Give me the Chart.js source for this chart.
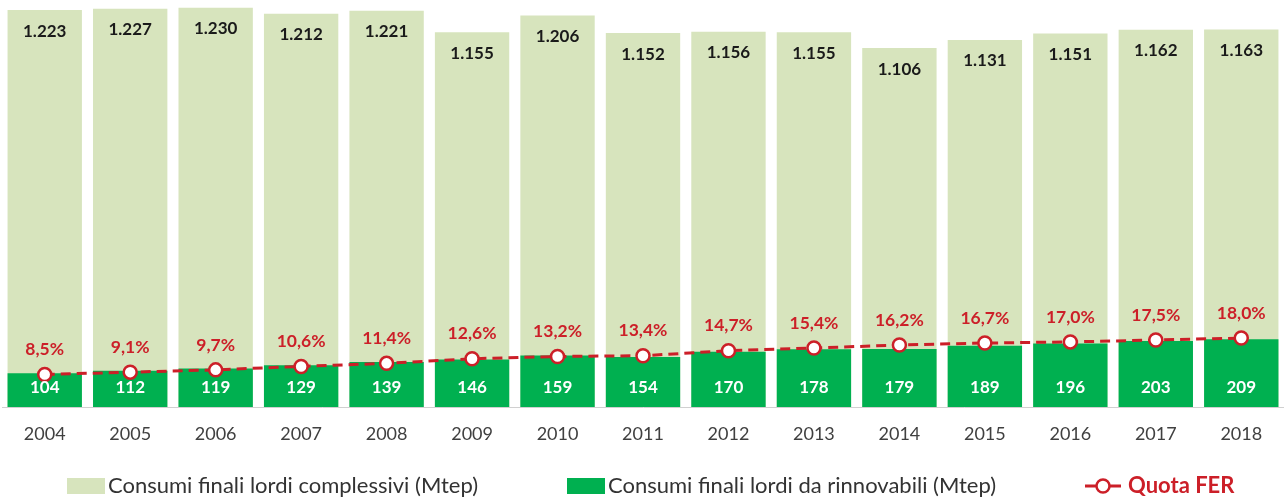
<!DOCTYPE html>
<html>
<head>
<meta charset="utf-8">
<script src="https://cdn.jsdelivr.net/npm/chart.js@4/dist/chart.umd.min.js"></script>
<style>
  html, body { margin: 0; padding: 0; background: #ffffff; }
  #wrap { width: 1284px; height: 497px; position: relative; }
</style>
</head>
<body>
<div id="wrap"><canvas id="c" width="1284" height="497"></canvas></div>
<script>
const years = ['2004','2005','2006','2007','2008','2009','2010','2011','2012','2013','2014','2015','2016','2017','2018'];
const totalConsumption = [1223, 1227, 1230, 1212, 1221, 1155, 1206, 1152, 1156, 1155, 1106, 1131, 1151, 1162, 1163];
const renewableConsumption = [104, 112, 119, 129, 139, 146, 159, 154, 170, 178, 179, 189, 196, 203, 209];
const ferShare = [8.5, 9.1, 9.7, 10.6, 11.4, 12.6, 13.2, 13.4, 14.7, 15.4, 16.2, 16.7, 17.0, 17.5, 18.0];

const seriesNames = [
  'Consumi finali lordi complessivi (Mtep)',
  'Consumi finali lordi da rinnovabili (Mtep)',
  'Quota FER'
];

const LIGHT = '#D7E4BD';
const GREEN = '#00B050';
const RED = '#CC1F28';
const FONT = 'Lato, "Open Sans", "DejaVu Sans", sans-serif';

function fmtThousands(v) {
  return v.toLocaleString('it-IT').replace(',', '.');
}
function fmtPct(v) {
  return v.toFixed(1).replace('.', ',') + '%';
}

const labelPlugin = {
  id: 'customLabels',
  afterDatasetsDraw(chart) {
    const ctx = chart.ctx;
    const area = chart.chartArea;
    ctx.save();
    ctx.textAlign = 'center';
    ctx.textBaseline = 'middle';
    const m0 = chart.getDatasetMeta(0);
    ctx.font = 'bold 17px ' + FONT;
    ctx.fillStyle = '#1a1a1a';
    m0.data.forEach((el, i) => {
      ctx.fillText(fmtThousands(totalConsumption[i]), el.x, el.y + 21);
    });
    const m1 = chart.getDatasetMeta(1);
    ctx.fillStyle = '#ffffff';
    ctx.font = 'bold 17px ' + FONT;
    m1.data.forEach((el, i) => {
      ctx.fillText(String(renewableConsumption[i]), el.x, area.bottom - 19);
    });
    const m2 = chart.getDatasetMeta(2);
    ctx.fillStyle = RED;
    ctx.font = 'bold 17.5px ' + FONT;
    m2.data.forEach((el, i) => {
      ctx.fillText(fmtPct(ferShare[i]), el.x, el.y - 25);
    });
    ctx.restore();
  },
  afterDraw(chart) {
    const ctx = chart.ctx;
    ctx.save();
    const y = 486;
    ctx.font = '22px ' + FONT;
    ctx.textBaseline = 'middle';
    ctx.textAlign = 'left';
    ctx.fillStyle = LIGHT;
    ctx.fillRect(67, y - 8, 38, 16);
    ctx.fillStyle = '#333333';
    ctx.fillText(seriesNames[0], 108, y);
    ctx.fillStyle = GREEN;
    ctx.fillRect(567, y - 8, 38, 16);
    ctx.fillStyle = '#333333';
    ctx.fillText(seriesNames[1], 608, y);
    ctx.strokeStyle = RED;
    ctx.lineWidth = 3;
    ctx.beginPath();
    ctx.moveTo(1085, y); ctx.lineTo(1121, y);
    ctx.stroke();
    ctx.beginPath();
    ctx.arc(1103, y, 6.5, 0, Math.PI * 2);
    ctx.fillStyle = '#ffffff';
    ctx.fill();
    ctx.lineWidth = 2.5;
    ctx.stroke();
    ctx.fillStyle = RED;
    ctx.font = 'bold 22px ' + FONT;
    ctx.fillText(seriesNames[2], 1128, y);
    ctx.restore();
  }
};

new Chart(document.getElementById('c'), {
  data: {
    labels: years,
    datasets: [
      {
        type: 'bar',
        label: seriesNames[0],
        data: totalConsumption,
        backgroundColor: LIGHT,
        borderWidth: 0,
        grouped: false,
        order: 3,
        yAxisID: 'y'
      },
      {
        type: 'bar',
        label: seriesNames[1],
        data: renewableConsumption,
        backgroundColor: GREEN,
        borderWidth: 0,
        grouped: false,
        order: 2,
        yAxisID: 'y'
      },
      {
        type: 'line',
        label: seriesNames[2],
        data: ferShare,
        borderColor: RED,
        borderWidth: 3,
        borderDash: [10, 6],
        pointRadius: 6.5,
        pointBorderWidth: 2.5,
        pointBackgroundColor: '#ffffff',
        pointBorderColor: RED,
        tension: 0,
        fill: false,
        order: 1,
        yAxisID: 'y2'
      }
    ]
  },
  options: {
    responsive: false,
    animation: false,
    layout: { autoPadding: false, padding: { left: 2, right: 0, top: 0, bottom: 0 } },
    plugins: {
      legend: { display: false },
      tooltip: { enabled: false }
    },
    datasets: {
      bar: { barPercentage: 0.87, categoryPercentage: 1.0 }
    },
    scales: {
      x: {
        grid: { display: false, drawTicks: false },
        border: { display: true, color: '#d0d0d0', width: 1 },
        ticks: {
          color: '#404040',
          font: { family: FONT, size: 18 },
          padding: 16,
          maxRotation: 0
        },
        afterFit(scale) { scale.height = 90; scale.paddingLeft = 0; scale.paddingRight = 0; }
      },
      y: {
        display: false,
        min: 0,
        max: 1254
      },
      y2: {
        display: false,
        min: 0,
        max: 106.3
      }
    }
  },
  plugins: [labelPlugin]
});
</script>
</body>
</html>
